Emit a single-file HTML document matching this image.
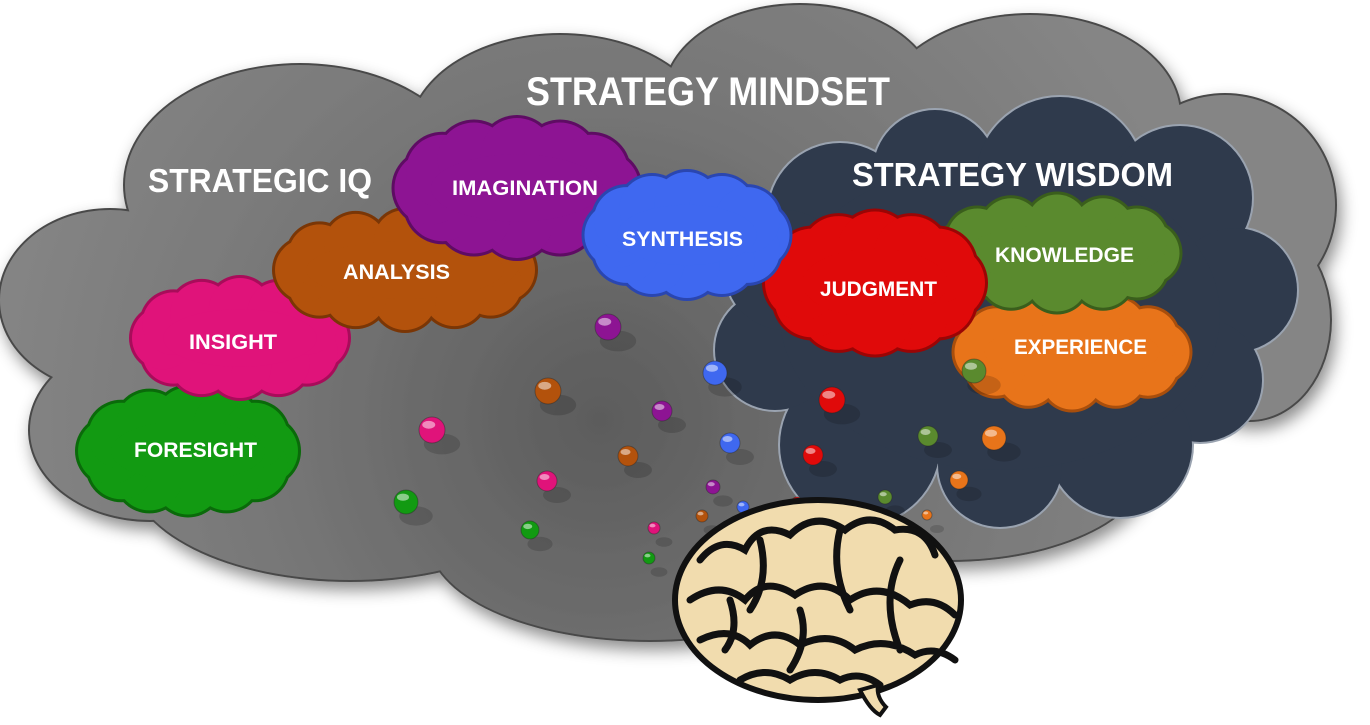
<!DOCTYPE html>
<html><head><meta charset="utf-8">
<style>
html,body{margin:0;padding:0;background:#fff;width:1370px;height:725px;overflow:hidden}
svg text{font-family:"Liberation Sans Narrow","Liberation Sans",sans-serif;font-weight:bold;fill:#fff}
</style></head>
<body>
<svg id="s" width="1370" height="725" viewBox="0 0 1370 725" xmlns="http://www.w3.org/2000/svg">
<defs>
<radialGradient id="gg" gradientUnits="userSpaceOnUse" cx="600" cy="420" r="620">
<stop offset="0" stop-color="#5c5c5c"/><stop offset="0.55" stop-color="#777"/><stop offset="1" stop-color="#858585"/>
</radialGradient>
<filter id="sh" x="-10%" y="-10%" width="120%" height="130%"><feDropShadow dx="4" dy="8" stdDeviation="8" flood-opacity="0.45"/></filter>
</defs>
<g id="big" filter="url(#sh)"></g>
<g id="navy"></g>
<g id="clouds"></g>
<g id="bubbles"></g>
<g id="brain">
<ellipse cx="818" cy="600" rx="143" ry="100" fill="#f1dcae" stroke="#111" stroke-width="6"/>
<path d="M700 560 q20 -25 45 -10 q15 -30 45 -15 q25 -25 55 -5 q25 -20 50 0 q30 -5 40 25 M690 600 q30 -20 55 0 q20 -25 50 -5 q30 -20 55 5 q30 -20 60 5 q25 -10 45 10 M700 640 q30 -15 50 5 q25 -20 50 0 q30 -15 55 5 q30 -15 60 5 q20 -10 40 5 M740 680 q25 -15 50 0 q25 -15 50 0 q20 -10 40 5 M760 540 q10 40 -10 70 M840 530 q-10 40 10 80 M900 560 q-20 40 0 90 M730 600 q10 30 -5 50 M800 610 q10 30 -10 60" fill="none" stroke="#111" stroke-width="7" stroke-linecap="round"/>
<path d="M860 690 q10 20 20 25 l6 -8 q-10 -10 -8 -22 z" fill="#f1dcae" stroke="#111" stroke-width="4"/>
</g>
<text x="526" y="105" font-size="40" textLength="364" lengthAdjust="spacingAndGlyphs">STRATEGY MINDSET</text>
<text x="148" y="192" font-size="33" textLength="224" lengthAdjust="spacingAndGlyphs">STRATEGIC IQ</text>
<text x="852" y="186" font-size="33" textLength="321" lengthAdjust="spacingAndGlyphs">STRATEGY WISDOM</text>
<text x="134" y="457" font-size="21" textLength="123" lengthAdjust="spacingAndGlyphs">FORESIGHT</text>
<text x="189" y="349" font-size="21" textLength="88" lengthAdjust="spacingAndGlyphs">INSIGHT</text>
<text x="343" y="279" font-size="21" textLength="107" lengthAdjust="spacingAndGlyphs">ANALYSIS</text>
<text x="452" y="195" font-size="21" textLength="146" lengthAdjust="spacingAndGlyphs">IMAGINATION</text>
<text x="622" y="246" font-size="21" textLength="121" lengthAdjust="spacingAndGlyphs">SYNTHESIS</text>
<text x="820" y="296" font-size="21" textLength="117" lengthAdjust="spacingAndGlyphs">JUDGMENT</text>
<text x="995" y="262" font-size="21" textLength="139" lengthAdjust="spacingAndGlyphs">KNOWLEDGE</text>
<text x="1014" y="354" font-size="21" textLength="133" lengthAdjust="spacingAndGlyphs">EXPERIENCE</text>
</svg>
<script>
var NS="http://www.w3.org/2000/svg";
function el(p,t,a){var e=document.createElementNS(NS,t);for(var k in a)e.setAttribute(k,a[k]);p.appendChild(e);return e;}
var big=document.getElementById('big');
var bl=[[300,185,175,120],[560,135,150,100],[800,95,135,90],[1030,115,150,100],[1225,205,110,110],[1250,320,80,100],[110,300,110,90],[150,430,120,90],[350,470,220,110],[650,540,220,100],[950,460,200,100],[680,320,560,220]];
bl.forEach(function(b){el(big,'ellipse',{cx:b[0],cy:b[1],rx:b[2]+2,ry:b[3]+2,fill:'#4a4a4a'});});
bl.forEach(function(b){el(big,'ellipse',{cx:b[0],cy:b[1],rx:b[2],ry:b[3],fill:'url(#gg)'});});
var nv=document.getElementById('navy');
var nl=[[840,215,72],[935,172,62],[1060,182,85],[1180,198,72],[1235,290,62],[1200,380,62],[1120,445,72],[1000,465,62],[860,445,80],[775,350,60],[785,270,60],[1000,315,220,155]];
nl.forEach(function(b){el(nv,'ellipse',{cx:b[0],cy:b[1],rx:b[2]+2,ry:(b[3]||b[2])+2,fill:'#9aa3b0'});});
nl.forEach(function(b){el(nv,'ellipse',{cx:b[0],cy:b[1],rx:b[2],ry:b[3]||b[2],fill:'#2f3a4c'});});
var cg=document.getElementById('clouds');
function cloud(cx,cy,w,h,f,s){
 var g=el(cg,'g',{});var r=h*0.26,n=12,pts=[];
 for(var i=0;i<n;i++){var a=i/n*2*Math.PI;pts.push([cx+(w/2-r)*Math.cos(a),cy+(h/2-r)*Math.sin(a)]);}
 pts.forEach(function(p){el(g,'circle',{cx:p[0],cy:p[1],r:r+3,fill:s});});
 el(g,'ellipse',{cx:cx,cy:cy,rx:w/2-r+3,ry:h/2-r+3,fill:s});
 pts.forEach(function(p){el(g,'circle',{cx:p[0],cy:p[1],r:r,fill:f});});
 el(g,'ellipse',{cx:cx,cy:cy,rx:w/2-r,ry:h/2-r,fill:f});
}
cloud(188,451,220,127,'#129a12','#0a6a0a');
cloud(240,338,216,120,'#e0137a','#a80c5a');
cloud(405,270,260,120,'#b3520c','#7a3606');
cloud(517,188,245,140,'#8d1493','#5e0c63');
cloud(1072,352,235,115,'#e8741a','#a84e0c');
cloud(1057,253,245,117,'#5a8a2e','#3a5e1c');
cloud(875,283,220,143,'#e00a0a','#9a0505');
cloud(687,235,205,126,'#3f68f0','#2a46b0');
var bg=document.getElementById('bubbles');
var bb=[[608,327,13,'#8d1493'],[548,391,13,'#b3520c'],[715,373,12,'#3f68f0'],[662,411,10,'#8d1493'],[432,430,13,'#e0137a'],[628,456,10,'#b3520c'],[730,443,10,'#3f68f0'],[832,400,13,'#e00a0a'],[813,455,10,'#e00a0a'],[928,436,10,'#5a8a2e'],[994,438,12,'#e8741a'],[974,371,12,'#5a8a2e'],[959,480,9,'#e8741a'],[547,481,10,'#e0137a'],[713,487,7,'#8d1493'],[406,502,12,'#129a12'],[530,530,9,'#129a12'],[654,528,6,'#e0137a'],[702,516,6,'#b3520c'],[743,507,6,'#3f68f0'],[797,503,6,'#e00a0a'],[885,497,7,'#5a8a2e'],[927,515,5,'#e8741a'],[649,558,6,'#129a12']];
bb.forEach(function(b){
 el(bg,'ellipse',{cx:b[0]+10,cy:b[1]+14,rx:b[2]*1.4,ry:b[2]*0.8,fill:'#000',opacity:'0.15'});
 el(bg,'circle',{cx:b[0],cy:b[1],r:b[2],fill:b[3],stroke:'#222','stroke-width':1,'stroke-opacity':0.4});
 el(bg,'ellipse',{cx:b[0]-b[2]*0.25,cy:b[1]-b[2]*0.4,rx:b[2]*0.5,ry:b[2]*0.3,fill:'#fff',opacity:'0.5'});
});
</script>
</body></html>
